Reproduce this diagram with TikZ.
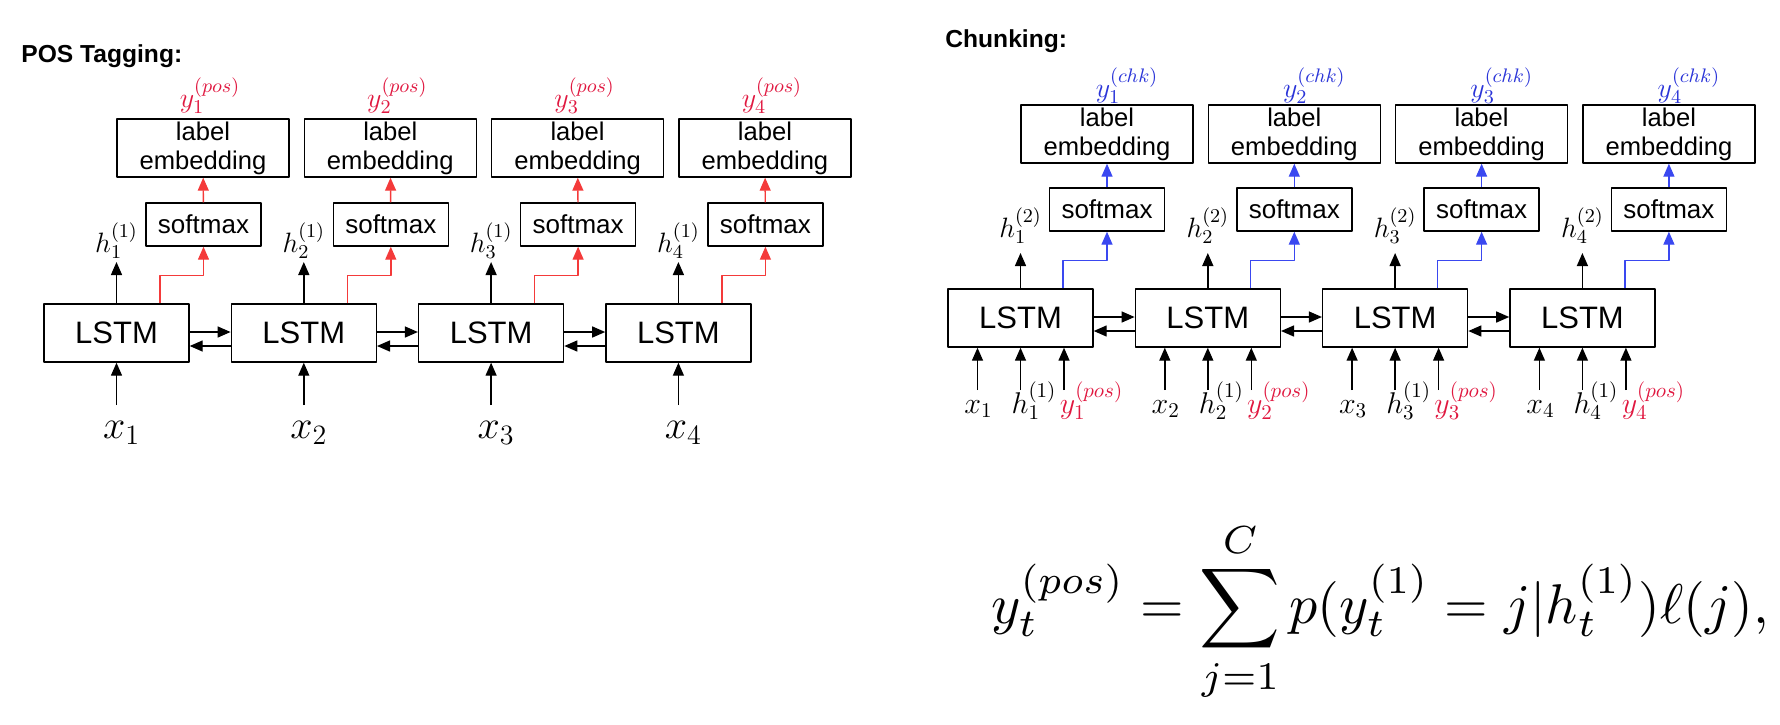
\documentclass[tikz,border=0pt]{standalone}
\usepackage{fix-cm}
\usepackage[no-math]{fontspec}
\newfontfamily\helv{Liberation Sans}
\usetikzlibrary{arrows.meta,positioning}
\definecolor{posred}{HTML}{E01840}
\definecolor{posline}{HTML}{F43A3A}
\definecolor{chkblue}{HTML}{2A34D8}
\definecolor{chkline}{HTML}{3A48F0}
\tikzset{
  every picture/.style={line join=round, >={Triangle[length=6.5pt,width=5.5pt]}},
  box/.style={draw, line width=0.7pt, inner sep=0pt},
  lstm/.style={box, minimum width=72.5pt, minimum height=29pt, font=\helv\fontsize{15.5}{18}\selectfont},
  smax/.style={box, minimum width=57.5pt, minimum height=21.5pt, font=\helv\fontsize{13}{15}\selectfont},
  lemb/.style={box, minimum width=86pt, minimum height=29pt, align=center, font=\helv\fontsize{12.8}{14.6}\selectfont},
  title/.style={inner sep=0pt, font=\helv\bfseries\fontsize{12.3}{14}\selectfont},
  flow/.style={->, line width=0.7pt},
  posflow/.style={flow, draw=posline},
  chkflow/.style={flow, draw=chkline},
  hlab/.style={inner sep=0pt, font=\fontsize{14}{16}\selectfont},
  ylab/.style={inner sep=0pt, font=\fontsize{14}{16}\selectfont},
  xlab/.style={inner sep=0pt, font=\fontsize{20}{24}\selectfont},
  inlab/.style={inner sep=0pt, font=\fontsize{15}{17}\selectfont},
}
\begin{document}
\begin{tikzpicture}[x=0.5pt,y=-0.5pt]
\useasboundingbox (0,0) rectangle (1780,724);
% POS tagging
\node[title,anchor=base west] (postitle) at (21,62) {POS Tagging:};
\foreach \i in {1,...,4}{
  \pgfmathsetmacro\cx{116.5+(\i-1)*187.3}
  \node[lstm] (pl\i) at (\cx,333) {LSTM};
  \node[smax] (ps\i) at (\cx+87,224.5) {softmax};
  \node[lemb] (pe\i) at (\cx+86.5,148) {label\\embedding};
  \coordinate (ph\i) at (\cx,262);
  \draw[flow] (pl\i) -- (ph\i);
  \node[hlab,anchor=base] (phl\i) at (\cx,252) {$h_{\i}^{(1)}$};
  \draw[posflow] ([xshift=21.75pt]pl\i.north) |- ([yshift=-14.5pt]ps\i.south) -- (ps\i.south);
  \draw[posflow] (ps\i) -- (pe\i);
  \node[ylab,text=posred,anchor=base] (py\i) at (\cx+93.5,107) {$y_{\i}^{(pos)}$};
  \coordinate (pin\i) at (\cx,405);
  \draw[flow] (pin\i) -- (pl\i);
  \node[xlab,anchor=base] (px\i) at (\cx+5,438) {$x_{\i}$};
}
\foreach \i/\j in {1/2,2/3,3/4}{
  \draw[flow] ([yshift=0.5pt]pl\i.east) -- ([yshift=0.5pt]pl\j.west);
  \draw[flow] ([yshift=-6.5pt]pl\j.west) -- ([yshift=-6.5pt]pl\i.east);
}
% chunking
\node[title,anchor=base west] (chktitle) at (945,47) {Chunking:};
\foreach \i in {1,...,4}{
  \pgfmathsetmacro\cx{1020.5+(\i-1)*187.3}
  \node[lstm] (cl\i) at (\cx,318) {LSTM};
  \node[smax] (cs\i) at (\cx+86.5,209.5) {softmax};
  \node[lemb] (ce\i) at (\cx+86.5,134) {label\\embedding};
  \coordinate (ch\i) at (\cx,253);
  \draw[flow] (cl\i) -- (ch\i);
  \node[hlab,anchor=base] (chl\i) at (\cx,237) {$h_{\i}^{(2)}$};
  \draw[chkflow] ([xshift=21.25pt]cl\i.north) |- ([yshift=-14.5pt]cs\i.south) -- (cs\i.south);
  \draw[chkflow] (cs\i) -- (ce\i);
  \node[ylab,text=chkblue,anchor=base] (cy\i) at (\cx+106.5,97) {$y_{\i}^{(chk)}$};
  % three inputs
  \coordinate (cxin\i) at (\cx-43,390);
  \coordinate (chin\i) at (\cx,390);
  \coordinate (cyin\i) at (\cx+43.5,390);
  \draw[flow] (cxin\i) -- (cxin\i |- cl\i.south);
  \draw[flow] (chin\i) -- (cl\i);
  \draw[flow] (cyin\i) -- (cyin\i |- cl\i.south);
  \node[inlab,anchor=base] (cxl\i) at (\cx-42,413) {$x_{\i}$};
  \node[inlab,anchor=base] (chil\i) at (\cx+13.5,413) {$h_{\i}^{(1)}$};
  \node[inlab,anchor=base,text=posred] (cyl\i) at (\cx+71,413) {$y_{\i}^{(pos)}$};
}
\foreach \i/\j in {1/2,2/3,3/4}{
  \draw[flow] ([yshift=0.5pt]cl\i.east) -- ([yshift=0.5pt]cl\j.west);
  \draw[flow] ([yshift=-6.5pt]cl\j.west) -- ([yshift=-6.5pt]cl\i.east);
}
% formula
\node[inner sep=0pt, anchor=base] (eq) at (1380,623)
  {\scalebox{2.8}{$\displaystyle y_t^{(pos)} = \sum_{j=1}^{C} p(y_t^{(1)} = j|h_t^{(1)})\ell(j),$}};
\end{tikzpicture}
\end{document}
